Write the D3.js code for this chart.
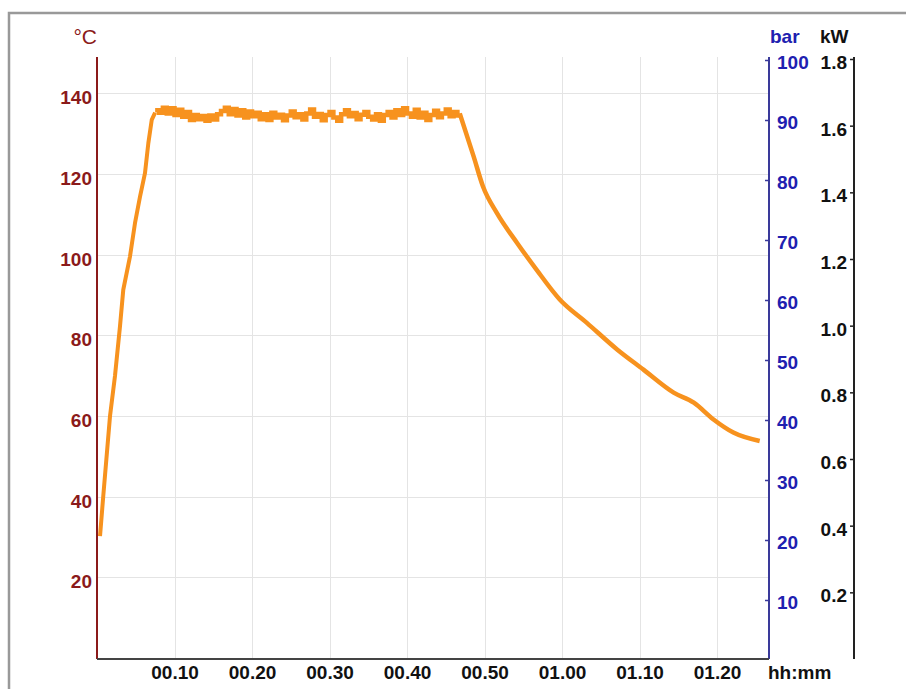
<!DOCTYPE html>
<meta charset="utf-8">
<script src="https://d3js.org/d3.v7.min.js"></script>
<style>
  body { margin: 0; background: #fff; }
  text { font-family: "Liberation Sans", Arial, sans-serif; }
</style>
<svg id="chart" width="906" height="689"></svg>
<script>
    // time in minutes, temperature in °C
    const heatTimes = [0.39, 0.81, 1.68, 2.32, 2.97, 3.39, 4.26, 4.9, 5.55, 6.19, 6.62, 7.06, 7.5]
    const heatTemps = [30.2, 40.2, 60, 69.9, 82.3, 91.3, 99.6, 107.8, 114.4, 120.2, 127.6, 133.4, 135.2]

    // holding phase, one reading every half minute from 7.5 min
    const holdStart = 7.5
    const holdStep = 0.5
    const holdTemps = [135.8, 135.2, 136.4, 135.0, 136.3, 134.6, 135.9, 134.2, 135.4,
                       133.4, 134.6, 133.6, 134.4, 133.2, 134.5, 133.5, 134.8,
                       135.6, 136.4, 134.8, 136.1, 134.5,
                       135.8, 134.0, 135.5, 134.3, 135.2, 133.6,
                       134.8, 133.4, 135.2, 134.0, 134.7, 133.3, 134.5, 135.5, 134.1, 134.8,
                       133.5, 135.0, 136.0, 134.2, 134.9, 133.3, 134.6, 135.4, 134.0, 133.2,
                       134.8, 135.8, 134.3, 135.1, 133.6, 134.7, 135.4,
                       134.2, 133.5, 134.8, 133.2, 134.6, 135.4, 134.0, 135.8, 134.6, 136.3,
                       135.0, 134.2, 135.9, 134.0, 135.2, 133.4, 134.6, 135.7, 134.1, 135.0,
                       136.0, 134.3, 135.4, 134.5]

    const coolTimes = [46.8, 48.6, 49.8, 51.6, 54.2, 56.7, 59.7, 63.2, 67.1, 70.5, 74.4, 77, 79.5, 82.1, 85.5]
    const coolTemps = [135.0, 124.3, 116.9, 110.3, 102.9, 96.3, 88.9, 83.1, 76.5, 71.5, 65.8, 63.3, 59.2, 55.9, 53.8]

    const timeTicks = [10, 20, 30, 40, 50, 60, 70, 80]
    const timeLabels = ["00.10", "00.20", "00.30", "00.40", "00.50", "01.00", "01.10", "01.20"]
    const tempTicks = [20, 40, 60, 80, 100, 120, 140]
    const barTicks = [10, 20, 30, 40, 50, 60, 70, 80, 90, 100]
    const kwTicks = [0.2, 0.4, 0.6, 0.8, 1.0, 1.2, 1.4, 1.6, 1.8]

    const svg = d3.select("#chart")

    const plotLeft = 97, plotRight = 769, plotTop = 57, plotBottom = 659
    const kwX = 854

    const x = d3.scaleLinear().domain([0, 86.7]).range([plotLeft, plotRight])
    const yT = d3.scaleLinear().domain([0, 150]).range([658, 53])
    const yBar = d3.scaleLinear().domain([0, 100]).range([660, 60])
    const yKw = d3.scaleLinear().domain([0, 1.8]).range([659, 59])

    const red = "#8b1a1a", blue = "#2020b0", orange = "#f7921e"

    // outer frame
    svg.append("rect")
      .attr("x", 9).attr("y", 13)
      .attr("width", 920).attr("height", 700)
      .attr("fill", "none").attr("stroke", "#999").attr("stroke-width", 2.5)

    // grid
    svg.append("g").selectAll("line")
      .data(tempTicks).enter().append("line")
        .attr("x1", plotLeft).attr("x2", plotRight)
        .attr("y1", d => Math.round(yT(d)) + 0.5).attr("y2", d => Math.round(yT(d)) + 0.5)
        .attr("stroke", "#e4e4e4")
    svg.append("g").selectAll("line")
      .data(timeTicks).enter().append("line")
        .attr("x1", d => Math.round(x(d)) + 0.5).attr("x2", d => Math.round(x(d)) + 0.5)
        .attr("y1", plotTop).attr("y2", plotBottom)
        .attr("stroke", "#e4e4e4")

    // temperature curve
    const heat = heatTimes.map((t, i) => [t, heatTemps[i]])
    const hold = holdTemps.map((v, i) => [holdStart + i * holdStep, v])
    hold.push([46.8, 135.0])
    const cool = coolTimes.map((t, i) => [t, coolTemps[i]])

    const lineLin = d3.line().x(d => x(d[0])).y(d => yT(d[1]))
    const lineStep = d3.line().x(d => x(d[0])).y(d => yT(d[1])).curve(d3.curveStepAfter)
    const lineSmooth = d3.line().x(d => x(d[0])).y(d => yT(d[1])).curve(d3.curveMonotoneX)

    svg.append("path").datum(heat)
      .attr("d", lineLin).attr("fill", "none")
      .attr("stroke", orange).attr("stroke-width", 4).attr("stroke-linejoin", "round")
    svg.append("path").datum(hold)
      .attr("d", lineStep).attr("fill", "none")
      .attr("stroke", orange).attr("stroke-width", 4.5)
    svg.append("path").datum(cool)
      .attr("d", lineSmooth).attr("fill", "none")
      .attr("stroke", orange).attr("stroke-width", 4.5).attr("stroke-linejoin", "round")

    // left axis (°C)
    const axT = svg.append("g").attr("transform", `translate(${plotLeft},0)`)
      .call(d3.axisLeft(yT).tickValues(tempTicks).tickSize(0).tickPadding(5))
    axT.select(".domain").remove()
    axT.selectAll("text").attr("fill", red).attr("font-size", 19).attr("font-weight", "bold").attr("dy", "0.55em")
    svg.append("line").attr("x1", plotLeft).attr("x2", plotLeft).attr("y1", plotTop).attr("y2", plotBottom)
      .attr("stroke", red).attr("stroke-width", 2)

    // bar axis
    const axB = svg.append("g").attr("transform", `translate(${plotRight},0)`)
      .call(d3.axisRight(yBar).tickValues(barTicks).tickSize(-4).tickPadding(8))
    axB.select(".domain").remove()
    axB.selectAll("line").attr("stroke", "#3a3a9a").attr("stroke-width", 1.5)
    axB.selectAll("text").attr("fill", blue).attr("font-size", 19).attr("font-weight", "bold").attr("dy", "0.45em")
    svg.append("line").attr("x1", plotRight).attr("x2", plotRight).attr("y1", plotTop).attr("y2", plotBottom)
      .attr("stroke", "#3a3a9a").attr("stroke-width", 2)

    // kW axis
    const axK = svg.append("g").attr("transform", `translate(${kwX},0)`)
      .call(d3.axisLeft(yKw).tickValues(kwTicks).tickSize(4).tickPadding(3).tickFormat(d3.format(".1f")))
    axK.select(".domain").remove()
    axK.selectAll("line").attr("stroke", "#222").attr("stroke-width", 1.5)
    axK.selectAll("text").attr("fill", "#111").attr("font-size", 19).attr("font-weight", "bold").attr("dy", "0.5em")
    svg.append("line").attr("x1", kwX).attr("x2", kwX).attr("y1", plotTop).attr("y2", plotBottom)
      .attr("stroke", "#222").attr("stroke-width", 2)

    // time axis
    const axX = svg.append("g").attr("transform", `translate(0,${plotBottom})`)
      .call(d3.axisBottom(x).tickValues(timeTicks).tickSize(0).tickPadding(7)
        .tickFormat((d, i) => timeLabels[i]))
    axX.select(".domain").remove()
    axX.selectAll("text").attr("fill", "#111").attr("font-size", 19).attr("font-weight", "bold")
    svg.append("line").attr("x1", plotLeft).attr("x2", plotRight).attr("y1", plotBottom).attr("y2", plotBottom)
      .attr("stroke", "#444").attr("stroke-width", 2)

    // unit labels
    svg.append("text").attr("x", 97).attr("y", 44).attr("text-anchor", "end")
      .attr("fill", red).attr("font-size", 21).text("°C")
    svg.append("text").attr("x", 770).attr("y", 43)
      .attr("fill", blue).attr("font-size", 19).attr("font-weight", "bold").text("bar")
    svg.append("text").attr("x", 820).attr("y", 43)
      .attr("fill", "#111").attr("font-size", 19).attr("font-weight", "bold").text("kW")
    svg.append("text").attr("x", 768).attr("y", 679)
      .attr("fill", "#111").attr("font-size", 19).attr("font-weight", "bold").text("hh:mm")
</script>
